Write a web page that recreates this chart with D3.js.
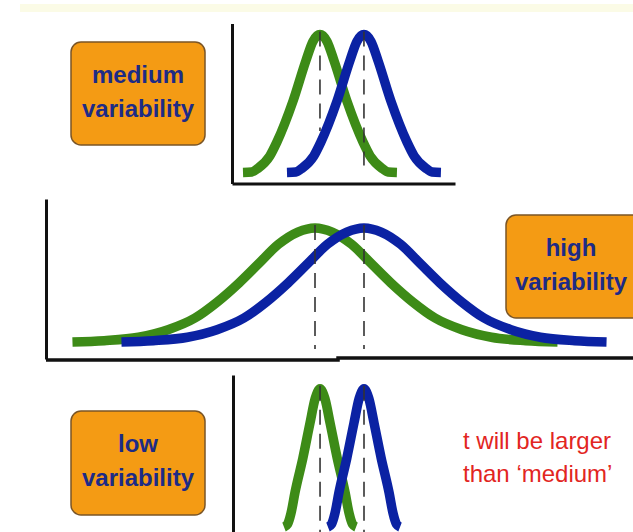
<!DOCTYPE html>
<html>
<head>
<meta charset="utf-8">
<script src="https://cdn.jsdelivr.net/npm/d3@7/dist/d3.min.js"></script>
<style>
  body { margin: 0; background: #ffffff; }
  svg { display: block; }
</style>
</head>
<body>
<svg id="chart" width="633" height="532"></svg>
<script>
// group means, measured in units of the difference between the means
const groups = ["green", "blue"]
const means = [0, 1]
const colors = ["#3d8b17", "#0b22a3"]

// curve shapes: [offset from the group mean, height]
const mediumShape = [[-1.75, 0], [-1.55, 0.004], [-1.41, 0.03], [-1.14, 0.12], [-0.98, 0.22], [-0.61, 0.52], [-0.32, 0.81],
  [-0.16, 0.95], [0, 1], [0.16, 0.95], [0.32, 0.81], [0.61, 0.52], [0.98, 0.22], [1.14, 0.12], [1.41, 0.03],
  [1.55, 0.004], [1.75, 0]]
const highShape = [[-4.95, 0], [-4.3, 0.01], [-3.6, 0.035], [-3.0, 0.09], [-2.45, 0.175], [-2.0, 0.29], [-1.55, 0.43],
  [-1.15, 0.57], [-0.75, 0.71], [-0.35, 0.80], [0, 0.83], [0.35, 0.80], [0.75, 0.71], [1.15, 0.57], [1.55, 0.43],
  [2.0, 0.29], [2.45, 0.175], [3.0, 0.09], [3.6, 0.035], [4.3, 0.01], [4.95, 0]]
const lowShape = [[-0.82, 0], [-0.74, 0.02], [-0.66, 0.1], [-0.57, 0.25], [-0.39, 0.5], [-0.23, 0.75], [-0.11, 0.93], [0, 1],
  [0.11, 0.93], [0.23, 0.75], [0.39, 0.5], [0.57, 0.25], [0.66, 0.1], [0.74, 0.02], [0.82, 0]]

// peak height of each shape, and where the dashed mean lines stop (green, blue)
const peaks = [1, 0.83, 1]
const dashEnds = [[0.3, 0.05], [-0.05, -0.05], [-0.1, -0.1]]

// text
const boxLabels = [["medium", "variability"], ["high", "variability"], ["low", "variability"]]
const noteLines = ["t will be larger", "than \u2018medium\u2019"]

let svg = d3.select("#chart")

// faint band along the top of the slide
svg.append("rect")
  .attr("x", 20)
  .attr("y", 4)
  .attr("width", 613)
  .attr("height", 8)
  .style("fill", "#fbfbe6")

// panel layout: scales map the units above into the slide
let panels = [
  { shape: mediumShape, xDomain: [-2, 3.07], xRange: [232, 455], yDomain: [-0.08, 1.08], yRange: [183.5, 23.5],
    box: { x: 71, y: 42, w: 134, h: 103 }, textX: 138 },
  { shape: highShape, xDomain: [-5.49, 6.49], xRange: [46, 633], yDomain: [-0.123, 1.04], yRange: [359, 199],
    box: { x: 506, y: 215, w: 140, h: 103 }, textX: 571 },
  { shape: lowShape, xDomain: [-1.98, 3.07], xRange: [233, 455], yDomain: [-0.1, 1.1], yRange: [540.8, 375],
    box: { x: 71, y: 411, w: 134, h: 104 }, textX: 138 }
]

panels.forEach(function (p, i) {
  let x = d3.scaleLinear().domain(p.xDomain).range(p.xRange)
  let y = d3.scaleLinear().domain(p.yDomain).range(p.yRange)

  let g = svg.append("g").attr("class", "panel panel-" + i)

  // axes: just the domain lines, no ticks
  let yAxis = g.append("g")
    .attr("transform", `translate(${x(p.xDomain[0])},0)`)
    .call(d3.axisLeft(y).tickValues([]).tickSizeOuter(0))
  yAxis.select(".domain").style("stroke", "#111").style("stroke-width", "3px")

  if (i == 1) {
    // the bottom line of the wide panel has a small step in it
    let stepLine = d3.line().x(d => x(d[0])).y(d => y(d[1]))
    g.append("path")
      .attr("d", stepLine([[p.xDomain[0], -0.13], [0.47, -0.13], [0.47, -0.116], [p.xDomain[1], -0.116]]))
      .style("fill", "none")
      .style("stroke", "#111")
      .style("stroke-width", "3.5px")
  } else {
    let xAxis = g.append("g")
      .attr("transform", `translate(0,${y(p.yDomain[0])})`)
      .call(d3.axisBottom(x).tickValues([]).tickSizeOuter(0))
    xAxis.select(".domain").style("stroke", "#111").style("stroke-width", "3px")
  }

  let line = d3.line()
    .x(d => x(d[0]))
    .y(d => y(d[1]))
    .curve(d3.curveMonotoneX)

  // one curve per group, blue drawn over green
  g.selectAll(".curve")
    .data(groups)
    .join("path")
    .attr("class", d => "curve " + d)
    .attr("d", (d, j) => line(p.shape.map(s => [s[0] + means[j], s[1]])))
    .style("fill", "none")
    .style("stroke", (d, j) => colors[j])
    .style("stroke-width", "9.5px")
    .style("stroke-linejoin", "round")

  // dashed lines at the means
  g.selectAll(".mean")
    .data(groups)
    .join("line")
    .attr("class", "mean")
    .attr("x1", (d, j) => x(means[j]))
    .attr("x2", (d, j) => x(means[j]))
    .attr("y1", y(peaks[i]) - 3)
    .attr("y2", (d, j) => y(dashEnds[i][j]))
    .style("stroke", "#333")
    .style("stroke-width", "1.6px")
    .style("stroke-dasharray", "15,9")

  // orange label box
  g.append("rect")
    .attr("x", p.box.x)
    .attr("y", p.box.y)
    .attr("width", p.box.w)
    .attr("height", p.box.h)
    .attr("rx", 10)
    .style("fill", "#f49b14")
    .style("stroke", "#7a5526")
    .style("stroke-width", "1.5px")

  g.append("text")
    .attr("text-anchor", "middle")
    .style("font-family", "'Liberation Sans', Arial, sans-serif")
    .style("font-weight", "bold")
    .style("font-size", "24px")
    .style("fill", "#1d2b86")
    .selectAll("tspan")
    .data(boxLabels[i])
    .join("tspan")
    .attr("x", p.textX)
    .attr("y", (d, k) => p.box.y + 41 + k * 34)
    .text(d => d)
})

// red note next to the narrow curves
svg.append("text")
  .style("font-family", "'Liberation Sans', Arial, sans-serif")
  .style("font-size", "24px")
  .style("fill", "#e2261f")
  .selectAll("tspan")
  .data(noteLines)
  .join("tspan")
  .attr("x", 463)
  .attr("y", (d, k) => 449 + k * 33)
  .text(d => d)
</script>
</body>
</html>
